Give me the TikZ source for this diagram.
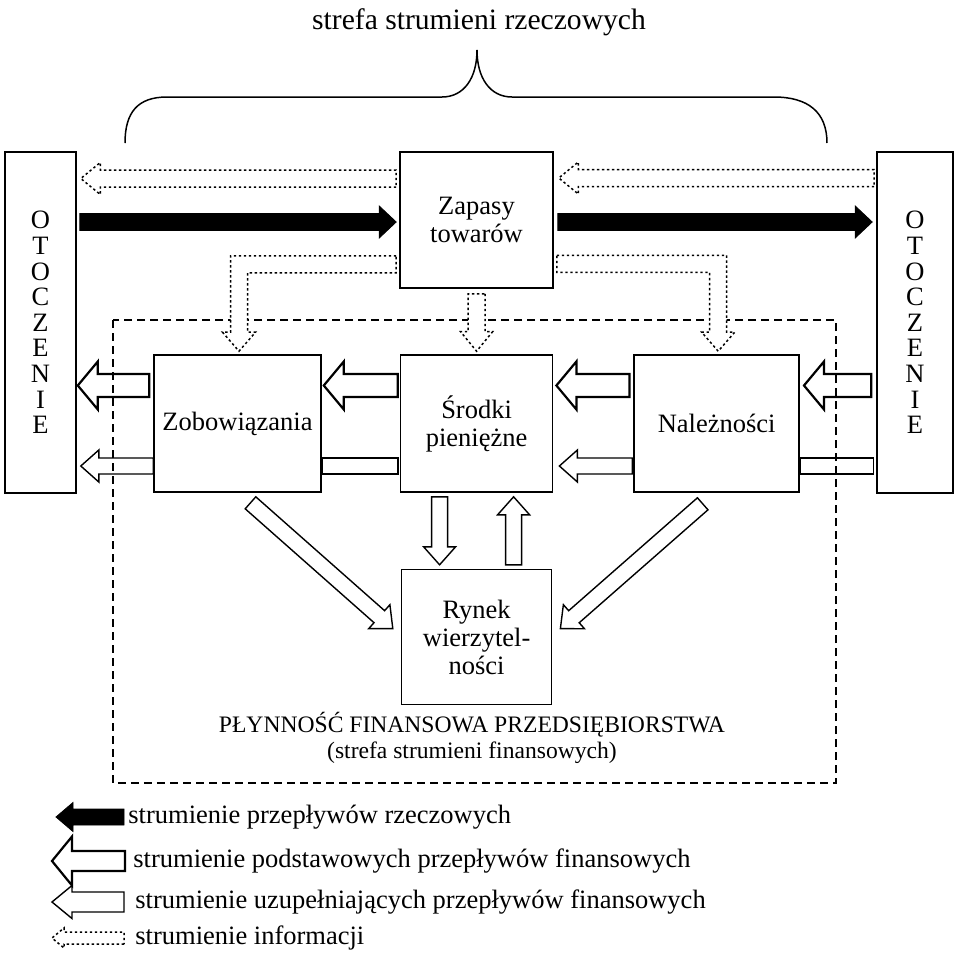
\documentclass[tikz,border=0pt]{standalone}
\usepackage{fontspec}
\setmainfont{Liberation Serif}
\usetikzlibrary{positioning,calc}

\begin{document}
\begin{tikzpicture}[
    x=0.5pt, y=-0.5pt,
    font=\fontsize{13.25}{14}\selectfont,
    blok/.style={draw, line width=0.8pt, align=center, inner sep=2pt,
                 minimum height=68.5pt},
    otocz/.style={draw, line width=0.8pt, align=center, minimum height=170.5pt,
                  font=\fontsize{13.25}{12.8}\selectfont},
    leg/.style={anchor=west, inner sep=0pt},
    strzalka/.style n args={3}{to path={
        let \p1=(\tikztostart), \p2=(\tikztotarget), \p3=($(\p2)!#2!(\p1)$) in
        ($(\p1)!#1!90:(\p2)$) -- ($(\p3)!#1!90:(\p2)$) -- ($(\p3)!#3!90:(\p2)$)
        -- (\p2) -- ($(\p3)!#3!-90:(\p2)$) -- ($(\p3)!#1!-90:(\p2)$)
        -- ($(\p1)!#1!-90:(\p2)$) -- cycle}},
    kolano/.style n args={3}{to path={
        let \p1=(\tikztostart), \p2=(\tikztotarget), \n1={sign(\x2-\x1)} in
        (\x1,{\y1+#1}) -- ({\x2+(\n1)*#1},{\y1+#1}) -- ({\x2+(\n1)*#1},{\y2+#2})
        -- ({\x2+(\n1)*#3},{\y2+#2}) -- (\p2) -- ({\x2-(\n1)*#3},{\y2+#2})
        -- ({\x2-(\n1)*#1},{\y2+#2}) -- ({\x2-(\n1)*#1},{\y1-#1})
        -- (\x1,{\y1-#1}) -- cycle}},
    pasek/.style={draw, line width=0.7pt, to path={
        let \p1=(\tikztostart), \p2=(\tikztotarget) in
        ($(\p1)!4pt!90:(\p2)$) -- ($(\p2)!4pt!-90:(\p1)$)
        -- ($(\p2)!4pt!90:(\p1)$) -- ($(\p1)!4pt!-90:(\p2)$) -- cycle}},
    rzecz/.style={strzalka={4.25pt}{8.5pt}{8pt}, draw, fill=black, line width=0.4pt},
    podst/.style={strzalka={5.75pt}{10pt}{12pt}, draw, line width=1.1pt},
    uzup/.style={strzalka={4pt}{9pt}{8pt}, draw, line width=0.7pt},
    info/.style={draw, fill=white, line width=0.75pt, dash pattern=on 1.2pt off 1.3pt},
    infostr/.style={strzalka={4.25pt}{9.75pt}{8pt}, info},
    ramka/.style={draw, line width=0.7pt, dash pattern=on 4pt off 2.5pt},
    klamra/.style={draw, line width=0.75pt}
]
\useasboundingbox (0,0) rectangle (955,954);

% strefa finansowa (ramka przerywana)
\draw[ramka] (113,320) rectangle (836,783);

\node[otocz, minimum width=35.5pt] (otoL) at (40.5,322.5) {O\\T\\O\\C\\Z\\E\\N\\I\\E};
\node[otocz, minimum width=38pt]   (otoR) at (915,322.5)  {O\\T\\O\\C\\Z\\E\\N\\I\\E};

\node[blok, minimum width=83.5pt]              (zob)  at (237.5,423.5) {Zobowiązania};
\node[blok, minimum width=76pt, right=39pt of zob]  (srod) {Środki\\pieniężne};
\node[blok, minimum width=82.5pt, right=40pt of srod] (nal) {Należności};
\node[blok, minimum width=76.5pt, minimum height=68pt] (zap) at (476.5,220) {Zapasy\\towarów};
\node[blok, minimum width=75pt, minimum height=67.5pt, below=38pt of srod] (ryn)
     {Rynek\\wierzytel-\\ności};

\node[font=\fontsize{14.8}{16}\selectfont] (tytul) at (479,22) {strefa strumieni rzeczowych};
\node[font=\fontsize{11.8}{13}\selectfont, align=center] (plyn) at (472,738)
     {PŁYNNOŚĆ FINANSOWA PRZEDSIĘBIORSTWA\\(strefa strumieni finansowych)};

% klamra nad strefa rzeczowa
\draw[klamra] (125,143) .. controls (125,112) and (138,97) .. (167,97) -- (442,97)
    .. controls (464,97) and (477,78) .. (477,50)
    .. controls (477,78) and (490,97) .. (512,97) -- (774,97)
    .. controls (808,97) and (827,112) .. (827,143);

% przeplywy rzeczowe
\draw[rzecz] ($(otoL.east |- zap.west)+(1.5pt,-1pt)$) to ($(zap.west)+(-1.5pt,-1pt)$);
\draw[rzecz] ($(zap.east)+(2pt,-1pt)$) to ($(otoR.west |- zap.east)+(-2pt,-1pt)$);

% strumienie informacji
\draw[infostr] ($(zap.west)+(-1.5pt,20.75pt)$) to ($(otoL.east |- zap.west)+(2pt,20.75pt)$);
\draw[infostr] ($(otoR.west |- zap.east)+(-1pt,21pt)$) to ($(zap.east)+(2.5pt,21pt)$);
\draw[kolano={4.25pt}{9.5pt}{8.25pt}, info]
    ($(zap.south west)+(-1.5pt,12.25pt)$) to ($(zob.north)+(0.75pt,1.5pt)$);
\draw[infostr] ($(srod.north |- zap.south)+(0,-2.5pt)$) to ($(srod.north)+(0,1.5pt)$);
\draw[kolano={4.25pt}{9.5pt}{8.25pt}, info]
    ($(zap.south east)+(1.5pt,12.5pt)$) to ($(nal.north)+(0.75pt,1.5pt)$);

% podstawowe przeplywy finansowe
\draw[podst] ($(zob.west)+(-2pt,19pt)$) to ($(otoL.east |- zob.west)+(0.5pt,19pt)$);
\draw[podst] ($(srod.west)+(-1pt,19pt)$) to ($(zob.east)+(1pt,19pt)$);
\draw[podst] ($(nal.west)+(-2pt,19pt)$) to ($(srod.east)+(1.5pt,19pt)$);
\draw[podst] ($(otoR.west |- nal.west)+(-2.5pt,19pt)$) to ($(nal.east)+(2pt,19pt)$);

% uzupelniajace przeplywy finansowe
\draw[uzup]  ($(zob.west)+(0,-21.25pt)$) to ($(otoL.east |- zob.west)+(2pt,-21.25pt)$);
\draw[pasek] ($(srod.west)+(-1pt,-21.25pt)$) to ($(zob.east)+(0,-21.25pt)$);
\draw[uzup]  ($(nal.west)+(-0.5pt,-21.25pt)$) to ($(srod.east)+(3pt,-21.25pt)$);
\draw[pasek] ($(otoR.west |- nal.west)+(-1.5pt,-21.25pt)$) to ($(nal.east)+(0,-21.25pt)$);
\draw[uzup]  ($(srod.south)+(-18.5pt,-2pt)$) to ($(ryn.north)+(-18.5pt,2pt)$);
\draw[uzup]  ($(ryn.north)+(18.5pt,2pt)$) to ($(srod.south)+(18.5pt,-2pt)$);
\draw[uzup]  ($(zob.south)+(6.5pt,-5pt)$) to ($(ryn.west)+(-4pt,4.25pt)$);
\draw[uzup]  ($(nal.south)+(-7pt,-5.5pt)$) to ($(ryn.east)+(4pt,4.25pt)$);

% legenda
\node[leg] (leg1) at (128,817) {strumienie przepływów rzeczowych};
\node[leg] (leg2) at (133,861) {strumienie podstawowych przepływów finansowych};
\node[leg] (leg3) at (135,902) {strumienie uzupełniających przepływów finansowych};
\node[leg] (leg4) at (135,938) {strumienie informacji};
\draw[rzecz, strzalka={4pt}{8.5pt}{7.25pt}] ($(leg1.west)+(-2pt,0)$) to ($(leg1.west)+(-36pt,0)$);
\draw[podst, strzalka={5pt}{10pt}{12.25pt}] ($(leg2.west)+(-4pt,0)$) to ($(leg2.west)+(-40.5pt,0)$);
\draw[uzup, strzalka={5pt}{10pt}{8.25pt}] ($(leg3.west)+(-5.5pt,0)$) to ($(leg3.west)+(-41.5pt,0)$);
\draw[info, strzalka={3pt}{6pt}{5pt}] ($(leg4.west)+(-5.5pt,0)$) to ($(leg4.west)+(-41.5pt,0)$);

\end{tikzpicture}
\end{document}
